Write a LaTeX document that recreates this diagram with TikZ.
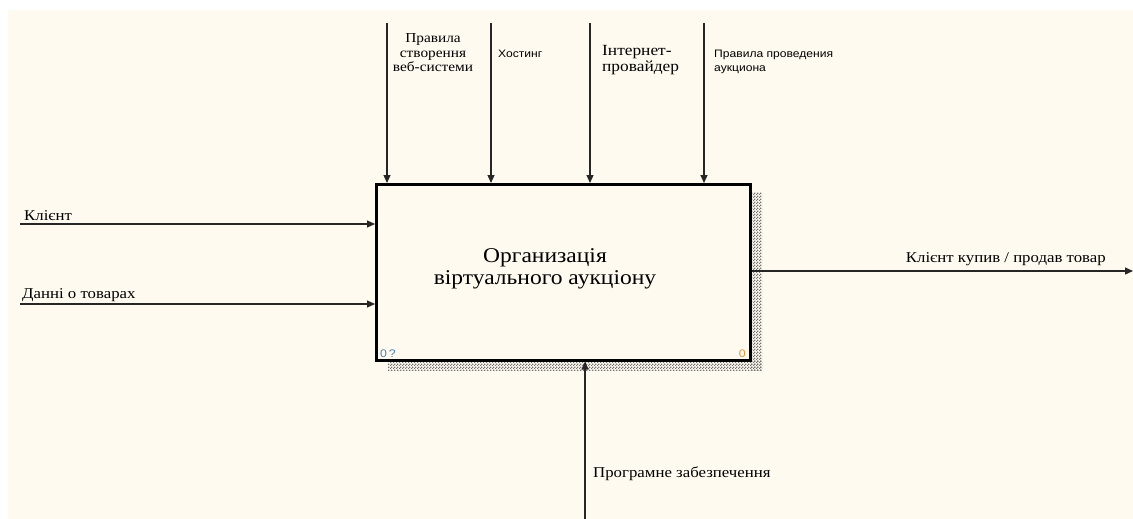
\documentclass[tikz,border=0pt]{standalone}
\usepackage{fontspec}
\setmainfont{Liberation Serif}[FakeStretch=1.12]
\setsansfont{Liberation Sans}[FakeStretch=1.12]
\usetikzlibrary{arrows.meta,patterns}
\definecolor{bg}{HTML}{FFFAF0}
\definecolor{numblue}{HTML}{4F7FB0}
\definecolor{numorange}{HTML}{D89A3A}
\pgfdeclarepatternformonly{idefchecker}{\pgfpointorigin}{\pgfpoint{3pt}{3pt}}{\pgfpoint{3pt}{3pt}}{%
  \pgfpathrectangle{\pgfpointorigin}{\pgfpoint{1.5pt}{1.5pt}}%
  \pgfpathrectangle{\pgfpoint{1.5pt}{1.5pt}}{\pgfpoint{1.5pt}{1.5pt}}%
  \pgfusepath{fill}}
\begin{document}
\begin{tikzpicture}[x=1pt,y=-1pt,
  arr/.style={draw=black!85, line width=1.2pt, -{Triangle[length=8pt,width=7pt]}},
  lbl/.style={inner sep=0pt, anchor=base west, font=\fontsize{15}{17}\selectfont},
  slbl/.style={inner sep=0pt, anchor=base west, align=left, font=\sffamily\fontsize{10.8}{14}\selectfont},
  shadow/.style={pattern=idefchecker, pattern color=black!55}]
\useasboundingbox (0,0) rectangle (1133,519);
\fill[white] (0,0) rectangle (1133,519);
\fill[bg] (8,10) rectangle (1133,519);
% shadow
\fill[shadow] (750,192) rectangle (762,370);
\fill[shadow] (388,360) rectangle (762,370);
% box
\node[draw, line width=2.5pt, minimum width=374pt, minimum height=176pt, anchor=north west, fill=bg, inner sep=0pt] (box) at (375,183) {};
\node[inner sep=0pt, align=center, anchor=base, font=\fontsize{21}{22}\selectfont] (title) at (545,284) {Организація\\віртуального аукціону};
\node[inner sep=0pt, anchor=base west, text=numblue, font=\sffamily\fontsize{11}{12}\selectfont] (n1) at (380,357) {0\,?};
\node[inner sep=0pt, anchor=base east, text=numorange, font=\sffamily\fontsize{11}{12}\selectfont] (n2) at (746,357) {0};
% top controls
\coordinate (t1) at (387,23);
\coordinate (t2) at (491,23);
\coordinate (t3) at (590,23);
\coordinate (t4) at (704,23);
\foreach \c in {t1,t2,t3,t4} \draw[arr] (\c) -- (\c |- box.north);
\node[inner sep=0pt, align=center, anchor=base, font=\fontsize{13.7}{14.5}\selectfont] (lt1) at (433,72) {Правила\\створення\\веб-системи};
\node[slbl] (lt2) at (498,58) {Хостинг};
\node[inner sep=0pt, anchor=base west, align=left, font=\fontsize{15.5}{17}\selectfont] (lt3) at (602,72) {Інтернет-\\провайдер};
\node[slbl] (lt4) at (714,72) {Правила проведения\\аукциона};
% inputs
\coordinate (l1) at (20,224);
\coordinate (l2) at (20,304);
\draw[arr] (l1) -- (l1 -| box.west);
\draw[arr] (l2) -- (l2 -| box.west);
\node[lbl] (ll1) at (24,220) {Клієнт};
\node[lbl] (ll2) at (22,298) {Данні о товарах};
% output
\coordinate (o) at (1133,271);
\draw[arr] (box.east |- o) -- (o);
\node[lbl, anchor=base east] (lo) at (1106,262) {Клієнт купив / продав товар};
% mechanism
\coordinate (b) at (585,519);
\draw[arr] (b) -- (b |- box.south);
\node[lbl] (lb) at (593,477) {Програмне забезпечення};
\end{tikzpicture}
\end{document}
